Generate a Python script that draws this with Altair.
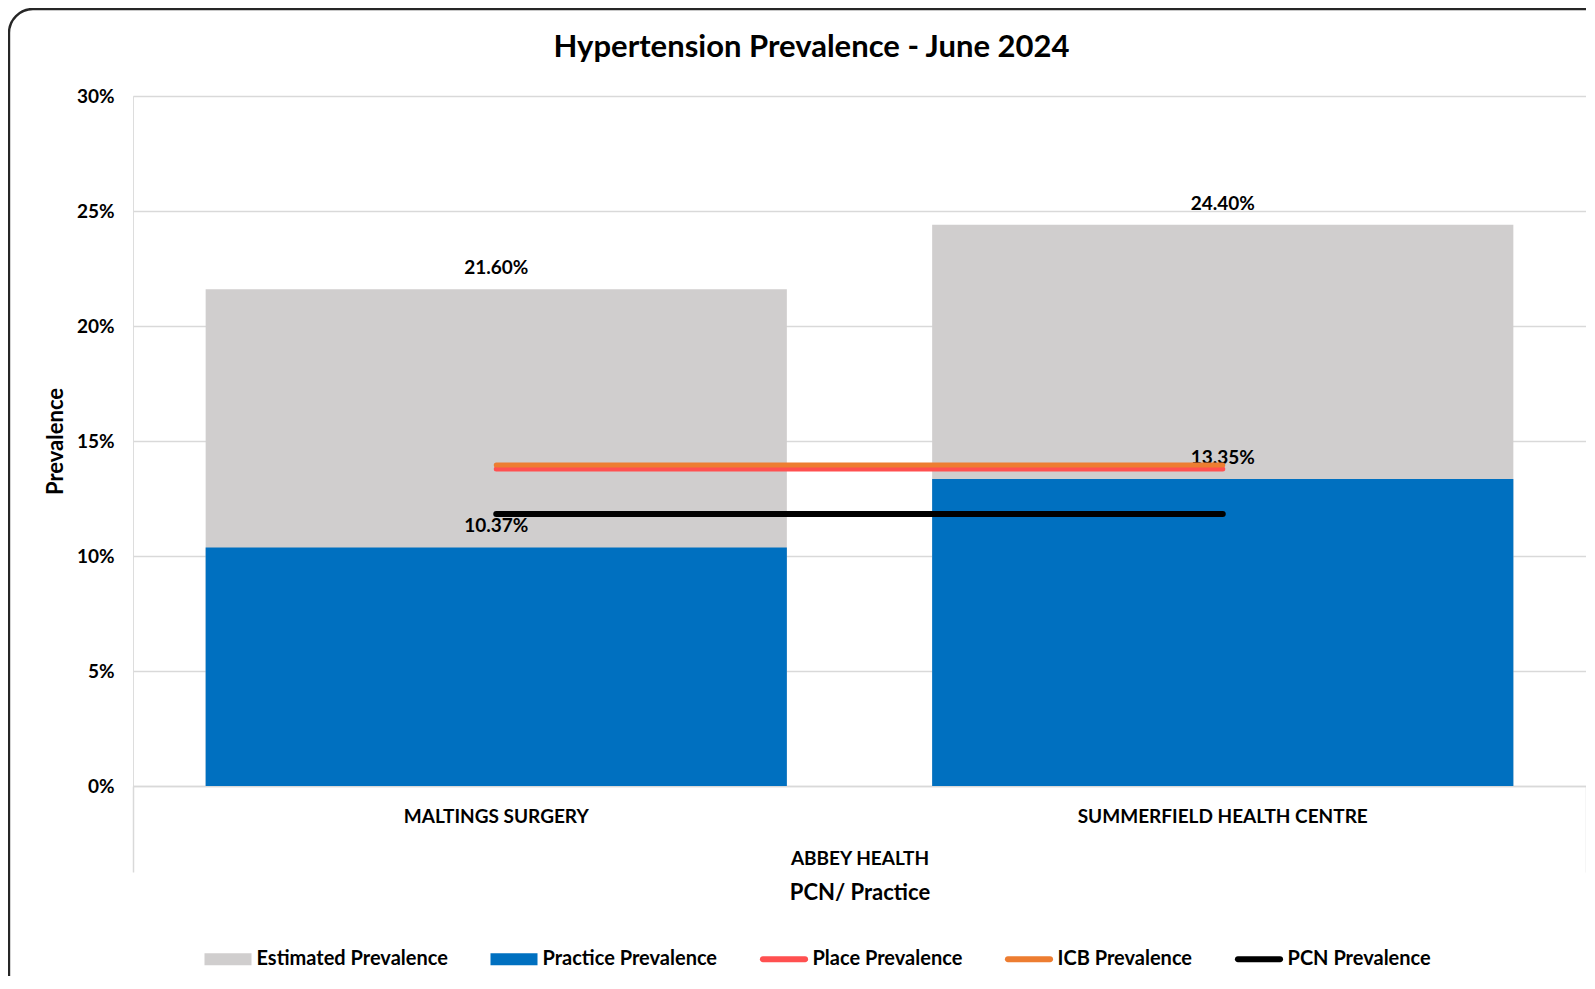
import altair as alt
import pandas as pd

# ---------------- data ----------------
categories = ["MALTINGS SURGERY", "SUMMERFIELD HEALTH CENTRE"]
estimated = [0.2160, 0.2440]
practice = [0.1037, 0.1335]
place = [0.1378, 0.1378]
icb = [0.1396, 0.1396]
pcn = [0.1183, 0.1183]

series_names = ["Estimated Prevalence", "Practice Prevalence", "Place Prevalence",
                "ICB Prevalence", "PCN Prevalence"]
series_colors = ["#d0cece", "#0070c0", "#ff5050", "#ed7d31", "#000000"]
y_ticks = [0.0, 0.05, 0.10, 0.15, 0.20, 0.25, 0.30]
group_label = "ABBEY HEALTH"
x_title = "PCN/ Practice"
y_title = "Prevalence"
chart_title = "Hypertension Prevalence - June 2024"
edges = [0.0, 1.0]

# ---------------- tables ----------------
wide = pd.DataFrame({
    "category": categories,
    "estimated": estimated,
    "practice": practice,
    "place": place,
    "icb": icb,
    "pcn": pcn,
})
series_values = [estimated, practice, place, icb, pcn]
long_rows = []
for name, vals in zip(series_names, series_values):
    for c, v in zip(categories, vals):
        long_rows.append({"series": name, "category": c, "value": v})
long = pd.DataFrame(long_rows)

# ---------------- styling ----------------
W, H = 1453, 690
FONT = "Lato"
GRID = "#d9d9d9"
RECT_SHAPE = "M-1,-0.26H1V0.26H-1Z"
LINE_SHAPE = "M-0.9,-0.125H0.9A0.125,0.125,0,0,1,0.9,0.125H-0.9A0.125,0.125,0,0,1,-0.9,-0.125Z"
shape_range = [RECT_SHAPE, RECT_SHAPE, LINE_SHAPE, LINE_SHAPE, LINE_SHAPE]

x_enc = alt.X(
    "category:N",
    sort=categories,
    scale=alt.Scale(type="band", domain=categories, paddingInner=0.2, paddingOuter=0.1),
    axis=alt.Axis(
        title=group_label, titleY=72, titleBaseline="middle", titleFont=FONT,
        titleFontSize=19, titleFontWeight="bold", titleColor="black",
        labelAngle=0, labelFont=FONT, labelFontSize=19, labelFontWeight="bold",
        labelColor="black", labelPadding=21, labelLimit=500, ticks=False,
        domainColor=GRID, domainWidth=1.5, grid=False,
    ),
)

y_scale = alt.Scale(domain=[0, 0.30], nice=False, zero=True)
y_axis = alt.Axis(
    values=y_ticks, format=".0%", title=y_title,
    titleX=-78, titleY=H / 2, titleAngle=270, titleAlign="center", titleBaseline="middle",
    titleFont=FONT, titleFontSize=22, titleFontWeight="bold", titleColor="black",
    labelFont=FONT, labelFontSize=19, labelFontWeight="bold", labelColor="black",
    labelPadding=19, ticks=False, domain=False, grid=True, gridColor=GRID, gridWidth=1.5,
)


def yq(field):
    return alt.Y(f"{field}:Q", scale=y_scale, axis=y_axis)


legend_obj = alt.Legend(
    title=None, orient="none", legendX=71.5, legendY=839.5, direction="horizontal",
    columns=5, symbolSize=2209, symbolStrokeWidth=0, symbolOpacity=1,
    labelFont=FONT, labelFontSize=20, labelFontWeight="bold", labelColor="black",
    labelOffset=5, columnPadding=42, labelLimit=500, padding=0,
)

frame = alt.Chart(pd.DataFrame({"k": [0]})).mark_rect(
    fillOpacity=0, stroke="#262626", strokeWidth=2.4, cornerRadius=24
).encode(x=alt.value(-124), x2=alt.value(W + 300), y=alt.value(-87), y2=alt.value(H + 500))

bars_est = alt.Chart(wide).mark_bar(color=series_colors[0]).encode(x=x_enc, y=yq("estimated"))
bars_prac = alt.Chart(wide).mark_bar(color=series_colors[1]).encode(x=x_enc, y=yq("practice"))


def line_layer(field, color, width):
    return alt.Chart(wide).mark_line(color=color, strokeWidth=width, strokeCap="round").encode(
        x=x_enc, y=yq(field))


line_place = line_layer("place", series_colors[2], 5)
line_icb = line_layer("icb", series_colors[3], 5)
line_pcn = line_layer("pcn", series_colors[4], 6)


def label_layer(field):
    return alt.Chart(wide).mark_text(
        font=FONT, fontSize=19, fontWeight="bold", color="black", baseline="middle", dy=-21
    ).encode(x=x_enc, y=yq(field), text=alt.Text(f"{field}:Q", format=".2%"))


lab_est = label_layer("estimated")
lab_prac = label_layer("practice")

legend_pts = alt.Chart(long).mark_point(filled=True, opacity=0, size=2209).encode(
    x=x_enc,
    y=yq("value"),
    color=alt.Color("series:N", scale=alt.Scale(domain=series_names, range=series_colors),
                    legend=legend_obj),
    shape=alt.Shape("series:N", scale=alt.Scale(domain=series_names, range=shape_range),
                    legend=legend_obj),
)

inner = alt.layer(frame, bars_est, bars_prac, lab_est, lab_prac,
                  line_place, line_icb, line_pcn, legend_pts)

sep = alt.Chart(pd.DataFrame({"edge": edges})).mark_point(opacity=0).encode(
    x=alt.X("edge:Q", scale=alt.Scale(domain=[0, 1], nice=False, zero=False),
            axis=alt.Axis(orient="bottom", values=edges, labels=False, domain=False, grid=False,
                          ticks=True, tickSize=86, tickColor=GRID, tickWidth=1.5,
                          title=x_title, titleY=106, titleBaseline="middle", titleFont=FONT,
                          titleFontSize=22, titleFontWeight="bold", titleColor="black")),
    y=alt.value(0),
)

chart = alt.layer(inner, sep).resolve_scale(x="independent").properties(
    width=W, height=H,
    padding={"left": 125, "top": 88, "right": 0, "bottom": 190},
    autosize=alt.AutoSizeParams(type="none"),
    title=alt.Title(chart_title, font=FONT, fontSize=31, fontWeight="bold", color="black",
                    anchor="middle", frame="group", baseline="middle", offset=0,
                    dx=-48, dy=71),
).configure_view(stroke=None).configure(background="white")

chart.save("out.html", embed_options={"renderer": "svg", "actions": False})
